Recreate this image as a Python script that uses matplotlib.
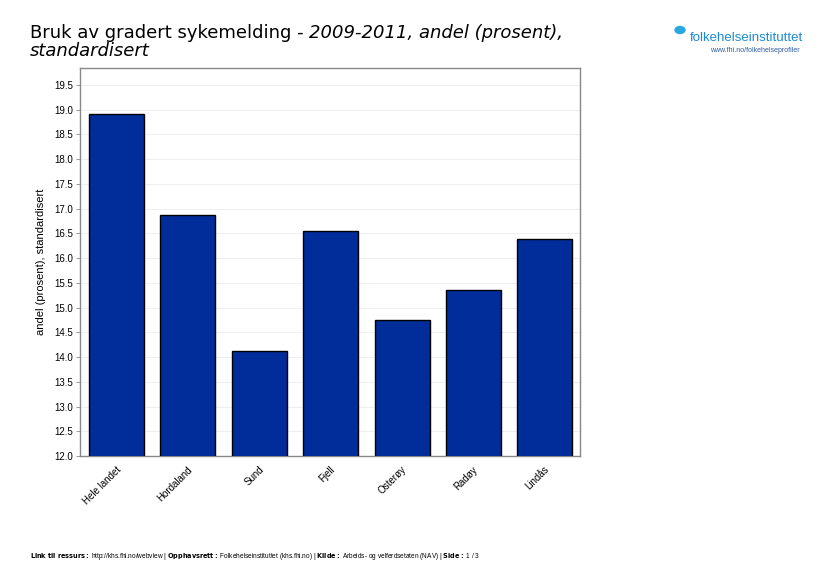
import numpy as np
import matplotlib.pyplot as plt

steder = ['Hele landet', 'Hordaland', 'Sund', 'Fjell', 'Osterøy', 'Radøy', 'Lindås']
andel = [18.91, 16.87, 14.12, 16.55, 14.75, 15.35, 16.38]
yticks = np.arange(12.0, 19.51, 0.5)

plt.rcParams['font.family'] = ['Liberation Sans', 'DejaVu Sans']

fig = plt.figure(figsize=(8.29, 5.85), dpi=100)
ax = fig.add_axes([80 / 829, 1 - 456 / 585, 500 / 829, 388 / 585])

x = np.arange(len(steder))
ax.bar(x + 0.01, andel, width=0.77, color='#002d9a', edgecolor='black', linewidth=1.0, zorder=3)

ax.set_xlim(-0.5, len(steder) - 0.5)
ax.set_ylim(12.0, 19.84)
ax.set_yticks(yticks)
ax.set_yticklabels([f'{v:.1f}' for v in yticks], fontsize=7)
ax.set_xticks(x)
ax.set_xticklabels(steder, rotation=45, ha='right', rotation_mode='anchor', fontsize=7)
ax.tick_params(axis='x', length=0, pad=6)
ax.tick_params(axis='y', length=3, width=0.6, color='#888888', pad=2)
ax.grid(axis='y', color='#eeeeee', linewidth=0.7, zorder=0)
for s in ax.spines.values():
    s.set_color('#888888')
    s.set_linewidth(1.0)
ax.set_ylabel('andel (prosent), standardisert', fontsize=8, labelpad=6)

# tittel
t1 = fig.text(30 / 829, 1 - 38 / 585, 'Bruk av gradert sykemelding - ', fontsize=13,
              family='DejaVu Sans', va='baseline')
ax.annotate('2009-2011, andel (prosent),', xy=(1, 0), xycoords=t1, fontsize=13,
            family='DejaVu Sans', style='italic', va='bottom', ha='left',
            annotation_clip=False)
fig.text(30 / 829, 1 - 56 / 585, 'standardisert', fontsize=13,
         family='DejaVu Sans', style='italic', va='baseline')

# logo
fig.text(690 / 829, 1 - 38 / 585, 'folkehelseinstituttet', fontsize=9.5, color='#1b8bd1',
         va='center')
fig.text(800 / 829, 1 - 50 / 585, 'www.fhi.no/folkehelseprofiler', fontsize=5, color='#2c5aa0',
         va='center', ha='right')
fig.patches.append(plt.Circle((680 / 829, 1 - 30 / 585), 0.006, transform=fig.transFigure,
                              color='#29a8e0'))

# bunntekst
fig.text(30 / 829, 1 - 557 / 585,
         r'$\bf{Link\ til\ ressurs:}$ http://khs.fhi.no/webview | $\bf{Opphavsrett:}$ '
         r'Folkehelseinstituttet (khs.fhi.no) | $\bf{Kilde:}$ Arbeids- og velferdsetaten (NAV) | '
         r'$\bf{Side:}$ 1 / 3', fontsize=4.7, va='center')

fig.savefig('out.png', dpi=100)
